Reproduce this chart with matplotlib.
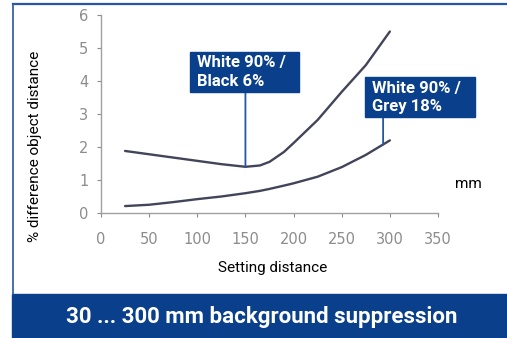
import matplotlib
matplotlib.use('Agg')
import matplotlib.pyplot as plt
import numpy as np
from matplotlib.patches import Rectangle

# values
dist = [25, 50, 75, 100, 125, 150, 165, 175, 190, 200, 225, 250, 275, 300]
black6 = [1.88, 1.78, 1.68, 1.58, 1.48, 1.40, 1.44, 1.55, 1.85, 2.12, 2.82, 3.67, 4.48, 5.5]
grey18 = [0.21, 0.25, 0.33, 0.42, 0.5, 0.6, 0.67, 0.73, 0.83, 0.9, 1.1, 1.39, 1.76, 2.2]
x_ticks = [0, 50, 100, 150, 200, 250, 300, 350]
y_ticks = [0, 1, 2, 3, 4, 5, 6]
label_x = [150, 293]
labels = ['White 90% /\nBlack 6%', 'White 90% /\nGrey 18%']

W, H = 507, 338
navy = '#0a3f8c'
curve_col = '#42445a'
grey = '#8c8c8c'

plt.rcParams['font.family'] = ['Roboto', 'DejaVu Sans']

fig = plt.figure(figsize=(W / 100, H / 100), dpi=100)


def fx(px):
    return px / W


def fy(py):
    return 1 - py / H


ax = fig.add_axes([fx(101), fy(213), fx(337), (213 - 15) / H])
for ser in [black6, grey18]:
    ax.plot(dist, ser, color=curve_col, lw=1.7, solid_capstyle='round',
            solid_joinstyle='round')
ax.set_xlim(0, 350)
ax.set_ylim(0, 6)
ax.set_xticks(x_ticks)
ax.set_yticks(y_ticks)
for s in ['top', 'right']:
    ax.spines[s].set_visible(False)
for s in ['left', 'bottom']:
    ax.spines[s].set_color('#a0a0a0')
    ax.spines[s].set_linewidth(1.0)
ax.tick_params(axis='x', colors=grey, length=3, pad=11, labelsize=10.5)
ax.tick_params(axis='y', colors=grey, length=3, pad=6, labelsize=10.5)
for lab in ax.get_xticklabels() + ax.get_yticklabels():
    lab.set_fontfamily('DejaVu Sans')
ax.patch.set_alpha(0)

# annotation boxes with connector lines down to the curves
boxes = [(190, 52, 109, 40), (365, 77, 110, 40)]
series = [black6, grey18]
for (bx, by, bw, bh), lx, txt, ser in zip(boxes, label_x, labels, series):
    fig.patches.append(Rectangle((fx(bx), fy(by + bh)), fx(bw), bh / H,
                                 transform=fig.transFigure, color=navy, zorder=3))
    fig.text(fx(bx + 7), fy(by + bh / 2), txt, color='white', fontsize=12,
             fontweight='bold', va='center', ha='left', linespacing=1.25, zorder=4)
    ly = np.interp(lx, dist, ser)
    ax.annotate('', xy=(lx, ly), xytext=(lx, fy(by + bh)),
                textcoords=('data', 'figure fraction'),
                arrowprops=dict(arrowstyle='-', color='#2456a4', lw=1.3,
                                shrinkA=0, shrinkB=0))

fig.text(fx(455), fy(184), 'mm', fontsize=11, ha='left', va='center')
fig.text(fx(273), fy(268), 'Setting distance', fontsize=11, ha='center', va='center')
fig.text(fx(35), fy(146), '% difference object distance', fontsize=11,
         rotation=90, ha='center', va='center')

# frame and banner
fig.add_artist(plt.Line2D([fx(13), 1], [fy(4), fy(4)], color='#2a58a0', lw=1.6))
fig.add_artist(plt.Line2D([fx(13), fx(13)], [fy(4), fy(294)], color='#2a58a0', lw=1.2))
fig.patches.append(Rectangle((fx(12), 0), 1 - fx(12), (338 - 294) / H,
                             transform=fig.transFigure, color=navy, zorder=1))
fig.text(fx(262), fy(317), '30 ... 300 mm background suppression', color='white',
         fontsize=16, fontweight='bold', ha='center', va='center')

fig.savefig('out.png', dpi=100)
